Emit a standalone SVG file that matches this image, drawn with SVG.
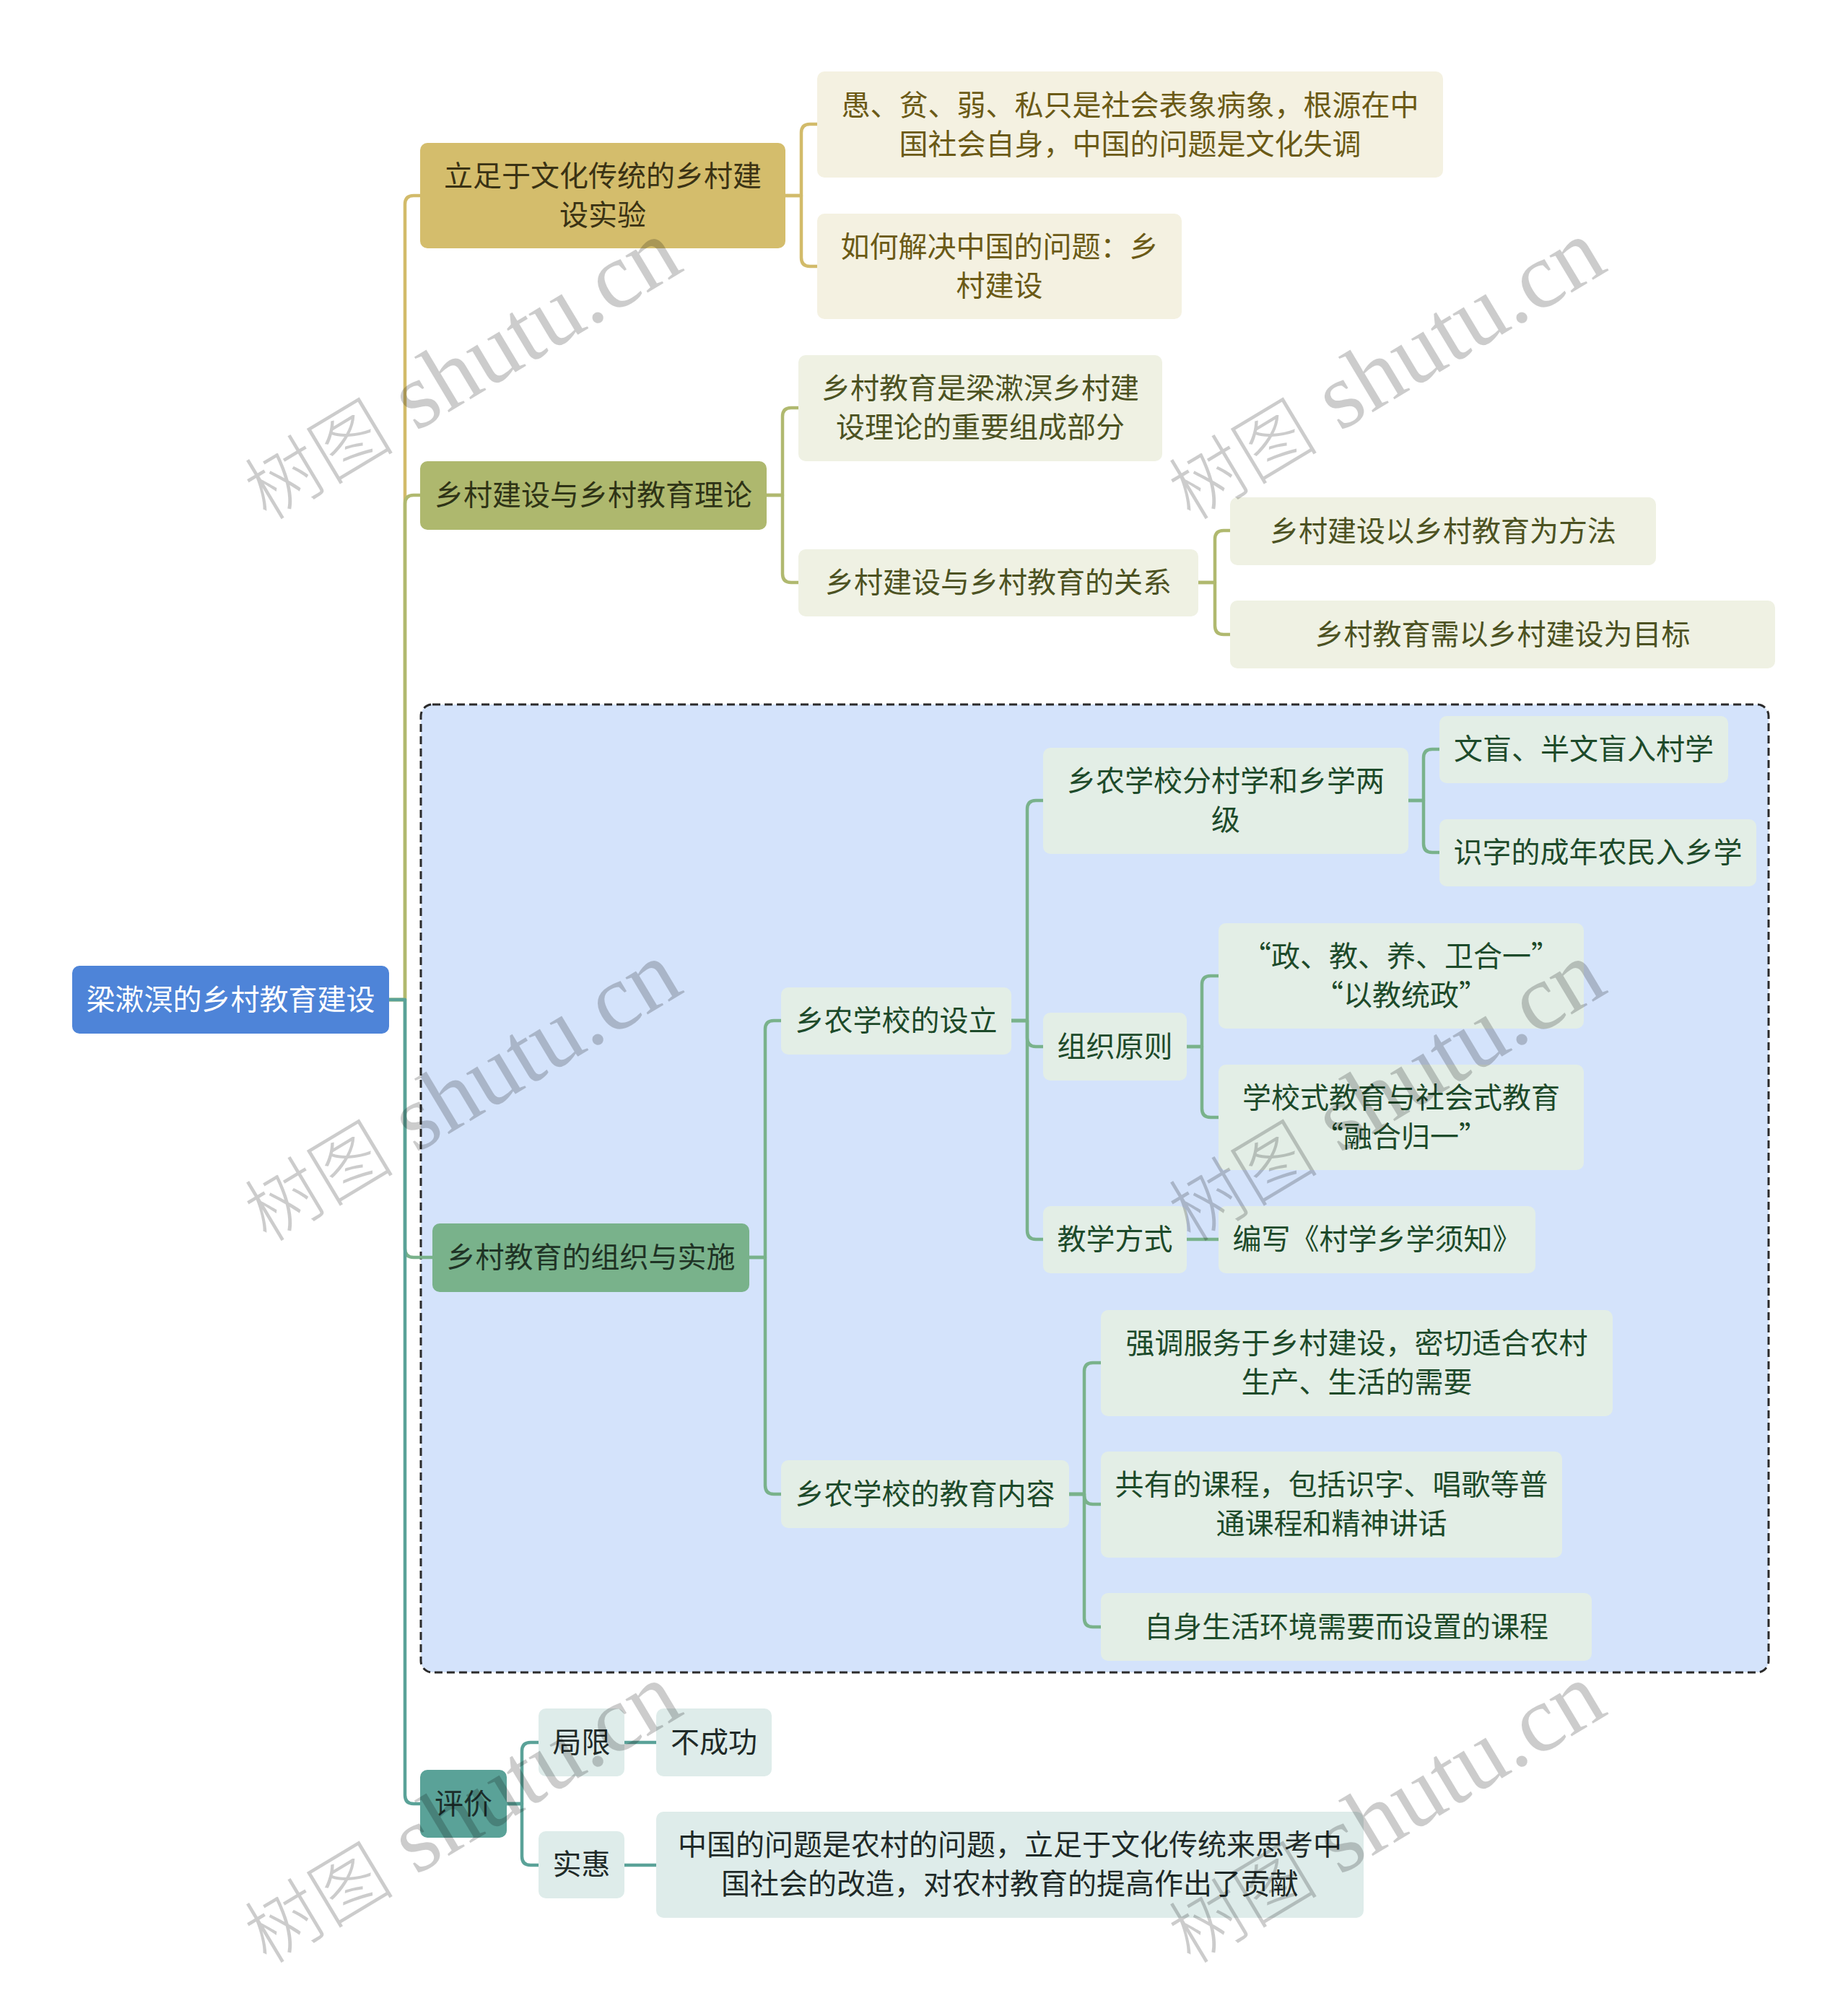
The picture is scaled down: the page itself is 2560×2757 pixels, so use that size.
<svg xmlns="http://www.w3.org/2000/svg" width="2560" height="2757" viewBox="0 0 2560 2757">
<style>
text{font-family:"Noto Sans CJK SC","Noto Sans",sans-serif;font-size:40px;text-anchor:middle}
.ln{fill:none;stroke-width:4.5;stroke-linecap:round;stroke-linejoin:round}
.c1{stroke:#d2bb6a}.c2{stroke:#b0b96f}.c3{stroke:#79b28b}.c4{stroke:#5aa298}
.root rect{fill:#4e84d8}.root text{fill:#ffffff}
.m1 rect{fill:#d4bd6c}.m1 text{fill:#3a3214}
.m2 rect{fill:#aeb86e}.m2 text{fill:#2e3316}
.m3 rect{fill:#79b28b}.m3 text{fill:#1f3325}
.m4 rect{fill:#5aa298}.m4 text{fill:#1c2e2b}
.s1 rect{fill:#f4f1e1}.s1 text{fill:#6b5a16}
.s2 rect{fill:#eff1e3}.s2 text{fill:#4c5222}
.s3 rect{fill:#e3eee6}.s3 text{fill:#1d4a2a}
.s4 rect{fill:#deecea}.s4 text{fill:#1f2a28}
.wm{font-family:"Liberation Serif","Noto Sans CJK SC",serif;font-size:130px;fill:#000;fill-opacity:0.2;text-anchor:middle}
.wm .cj{font-family:"Noto Sans CJK SC",sans-serif;font-size:104px;font-weight:300}
</style>
<rect x="0" y="0" width="2560" height="2757" fill="#ffffff"/>
<rect id="frame" x="583" y="976" width="1867" height="1341" rx="16" fill="#d4e3fb" stroke="#2b2b2b" stroke-width="3" stroke-dasharray="11 6"/>
<g id="connectors">
<path class="ln c1" d="M539 1385 H561 V283 Q561 271 573 271 H582"/>
<path class="ln c2" d="M539 1385 H561 V698 Q561 686 573 686 H582"/>
<path class="ln c3" d="M539 1385 H561 V1730 Q561 1742 573 1742 H599"/>
<path class="ln c4" d="M539 1385 H561 V2487 Q561 2499 573 2499 H582"/>
<path class="ln c1" d="M1088 271 H1110 V184 Q1110 172 1122 172 H1132"/>
<path class="ln c1" d="M1088 271 H1110 V357 Q1110 369 1122 369 H1132"/>
<path class="ln c2" d="M1062 686 H1084 V577 Q1084 565 1096 565 H1106"/>
<path class="ln c2" d="M1062 686 H1084 V795 Q1084 807 1096 807 H1106"/>
<path class="ln c2" d="M1660 807 H1683 V747 Q1683 735 1695 735 H1704"/>
<path class="ln c2" d="M1660 807 H1683 V867 Q1683 879 1695 879 H1704"/>
<path class="ln c3" d="M1038 1742 H1060 V1426 Q1060 1414 1072 1414 H1082"/>
<path class="ln c3" d="M1038 1742 H1060 V2058 Q1060 2070 1072 2070 H1082"/>
<path class="ln c3" d="M1401 1414 H1423 V1121 Q1423 1109 1435 1109 H1445"/>
<path class="ln c3" d="M1401 1414 H1423 V1438 Q1423 1450 1435 1450 H1445"/>
<path class="ln c3" d="M1401 1414 H1423 V1705 Q1423 1717 1435 1717 H1445"/>
<path class="ln c3" d="M1951 1109 H1972 V1050 Q1972 1038 1984 1038 H1994"/>
<path class="ln c3" d="M1951 1109 H1972 V1169 Q1972 1181 1984 1181 H1994"/>
<path class="ln c3" d="M1644 1450 H1665 V1364 Q1665 1352 1677 1352 H1688"/>
<path class="ln c3" d="M1644 1450 H1665 V1536 Q1665 1548 1677 1548 H1688"/>
<path class="ln c3" d="M1644 1717 H1688"/>
<path class="ln c3" d="M1481 2070 H1502 V1900 Q1502 1888 1514 1888 H1525"/>
<path class="ln c3" d="M1481 2070 H1502 V2072 Q1502 2084 1514 2084 H1525"/>
<path class="ln c3" d="M1481 2070 H1502 V2242 Q1502 2254 1514 2254 H1525"/>
<path class="ln c4" d="M702 2499 H723 V2426 Q723 2414 735 2414 H746"/>
<path class="ln c4" d="M702 2499 H723 V2572 Q723 2584 735 2584 H746"/>
<path class="ln c4" d="M865 2414 H909"/>
<path class="ln c4" d="M865 2584 H909"/>
</g>
<g id="root" class="root"><rect x="100" y="1338" width="439" height="94" rx="10"/><text x="319.5" y="1399">梁漱溟的乡村教育建设</text></g>
<g id="b1" class="m1"><rect x="582" y="198" width="506" height="146" rx="10"/><text x="835" y="258">立足于文化传统的乡村建</text><text x="835" y="312">设实验</text></g>
<g id="b2" class="m2"><rect x="582" y="639" width="480" height="95" rx="10"/><text x="822" y="700">乡村建设与乡村教育理论</text></g>
<g id="b3" class="m3"><rect x="599" y="1695" width="439" height="95" rx="10"/><text x="818.5" y="1756">乡村教育的组织与实施</text></g>
<g id="b4" class="m4"><rect x="582" y="2452" width="120" height="94" rx="10"/><text x="642" y="2513">评价</text></g>
<g id="n1a" class="s1"><rect x="1132" y="99" width="867" height="147" rx="10"/><text x="1565.5" y="160">愚、贫、弱、私只是社会表象病象，根源在中</text><text x="1565.5" y="214">国社会自身，中国的问题是文化失调</text></g>
<g id="n1b" class="s1"><rect x="1132" y="296" width="505" height="146" rx="10"/><text x="1384.5" y="356">如何解决中国的问题：乡</text><text x="1384.5" y="410">村建设</text></g>
<g id="n2a" class="s2"><rect x="1106" y="492" width="504" height="147" rx="10"/><text x="1358" y="552">乡村教育是梁漱溟乡村建</text><text x="1358" y="606">设理论的重要组成部分</text></g>
<g id="n2b" class="s2"><rect x="1106" y="761" width="554" height="93" rx="10"/><text x="1383" y="821">乡村建设与乡村教育的关系</text></g>
<g id="n2b1" class="s2"><rect x="1704" y="689" width="590" height="94" rx="10"/><text x="1999" y="750">乡村建设以乡村教育为方法</text></g>
<g id="n2b2" class="s2"><rect x="1704" y="832" width="755" height="94" rx="10"/><text x="2081.5" y="893">乡村教育需以乡村建设为目标</text></g>
<g id="n3a" class="s3"><rect x="1082" y="1368" width="319" height="93" rx="10"/><text x="1241.5" y="1428">乡农学校的设立</text></g>
<g id="n3b" class="s3"><rect x="1082" y="2023" width="399" height="94" rx="10"/><text x="1281.5" y="2084">乡农学校的教育内容</text></g>
<g id="n3a1" class="s3"><rect x="1445" y="1036" width="506" height="147" rx="10"/><text x="1698" y="1096">乡农学校分村学和乡学两</text><text x="1698" y="1150">级</text></g>
<g id="n3a2" class="s3"><rect x="1445" y="1403" width="199" height="94" rx="10"/><text x="1544.5" y="1464">组织原则</text></g>
<g id="n3a3" class="s3"><rect x="1445" y="1671" width="199" height="93" rx="10"/><text x="1544.5" y="1731">教学方式</text></g>
<g id="n3a1a" class="s3"><rect x="1994" y="992" width="400" height="93" rx="10"/><text x="2194" y="1052">文盲、半文盲入村学</text></g>
<g id="n3a1b" class="s3"><rect x="1994" y="1135" width="439" height="93" rx="10"/><text x="2213.5" y="1195">识字的成年农民入乡学</text></g>
<g id="n3a2a" class="s3"><rect x="1688" y="1279" width="506" height="146" rx="10"/><text x="1941" y="1339">“政、教、养、卫合一”</text><text x="1941" y="1393">“以教统政”</text></g>
<g id="n3a2b" class="s3"><rect x="1688" y="1475" width="506" height="146" rx="10"/><text x="1941" y="1535">学校式教育与社会式教育</text><text x="1941" y="1589">“融合归一”</text></g>
<g id="n3a3a" class="s3"><rect x="1688" y="1671" width="439" height="93" rx="10"/><text x="1907.5" y="1731">编写《村学乡学须知》</text></g>
<g id="n3b1" class="s3"><rect x="1525" y="1815" width="709" height="147" rx="10"/><text x="1879.5" y="1875">强调服务于乡村建设，密切适合农村</text><text x="1879.5" y="1929">生产、生活的需要</text></g>
<g id="n3b2" class="s3"><rect x="1525" y="2011" width="639" height="147" rx="10"/><text x="1844.5" y="2071">共有的课程，包括识字、唱歌等普</text><text x="1844.5" y="2125">通课程和精神讲话</text></g>
<g id="n3b3" class="s3"><rect x="1525" y="2207" width="680" height="94" rx="10"/><text x="1865" y="2268">自身生活环境需要而设置的课程</text></g>
<g id="n4a" class="s4"><rect x="746" y="2367" width="119" height="94" rx="10"/><text x="805.5" y="2428">局限</text></g>
<g id="n4b" class="s4"><rect x="746" y="2537" width="119" height="93" rx="10"/><text x="805.5" y="2597">实惠</text></g>
<g id="n4a1" class="s4"><rect x="909" y="2367" width="160" height="94" rx="10"/><text x="989" y="2428">不成功</text></g>
<g id="n4b1" class="s4"><rect x="909" y="2510" width="980" height="147" rx="10"/><text x="1399" y="2570">中国的问题是农村的问题，立足于文化传统来思考中</text><text x="1399" y="2624">国社会的改造，对农村教育的提高作出了贡献</text></g>
<g id="watermarks">
<text class="wm" transform="translate(660 548) rotate(-31)"><tspan class="cj">树图</tspan> shutu.cn</text>
<text class="wm" transform="translate(1940 548) rotate(-31)"><tspan class="cj">树图</tspan> shutu.cn</text>
<text class="wm" transform="translate(660 1548) rotate(-31)"><tspan class="cj">树图</tspan> shutu.cn</text>
<text class="wm" transform="translate(1940 1548) rotate(-31)"><tspan class="cj">树图</tspan> shutu.cn</text>
<text class="wm" transform="translate(660 2548) rotate(-31)"><tspan class="cj">树图</tspan> shutu.cn</text>
<text class="wm" transform="translate(1940 2548) rotate(-31)"><tspan class="cj">树图</tspan> shutu.cn</text>
</g>
</svg>
